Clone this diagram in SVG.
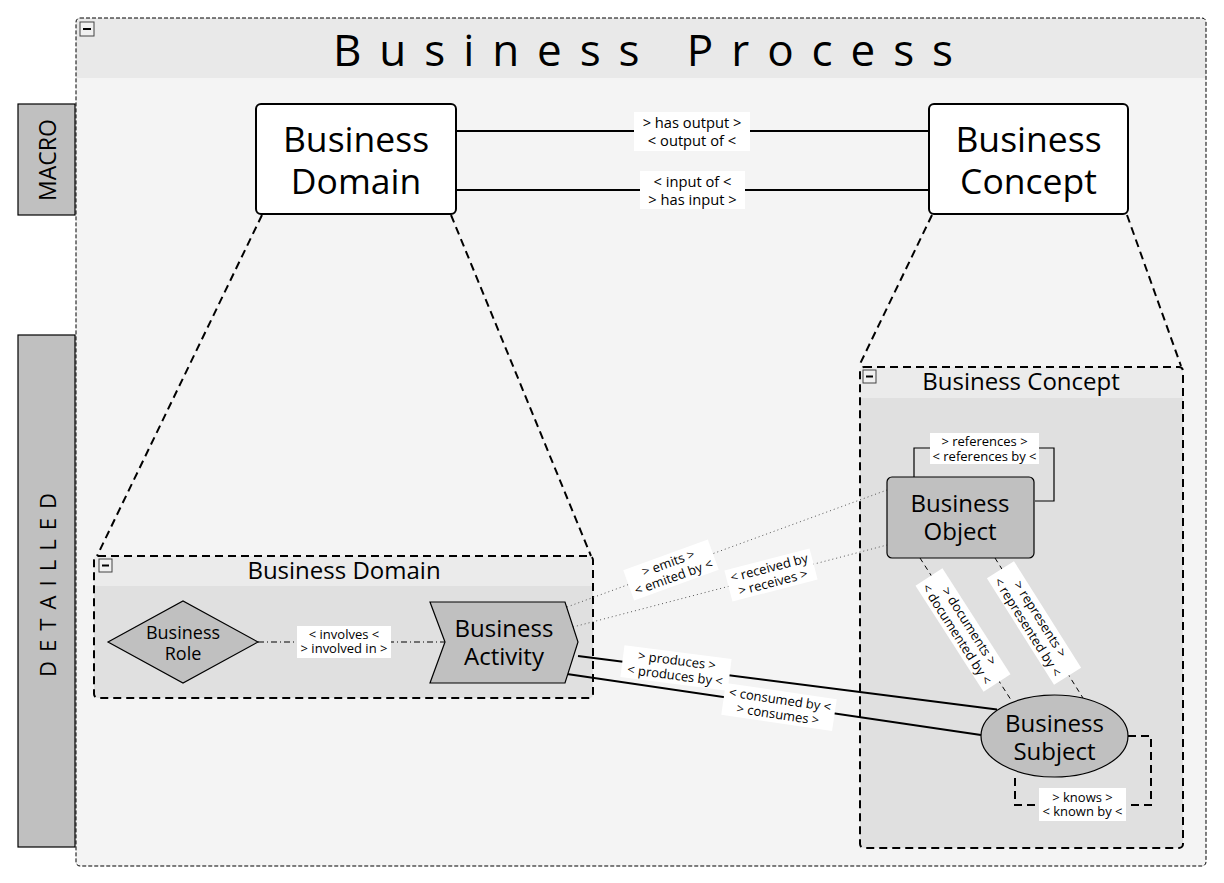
<svg xmlns="http://www.w3.org/2000/svg" width="1224" height="883" viewBox="0 0 1224 883">
<style>
text{font-family:"Open Sans","DejaVu Sans",sans-serif;fill:#000}
.lbl{font-size:13px;text-anchor:middle}
.lbl15{font-size:14.7px;text-anchor:middle}
.big{font-size:35.5px;text-anchor:middle}
.mid{font-size:24px;text-anchor:middle}
.sm{font-size:18px;text-anchor:middle}
.lblbg{fill:#fff;stroke:none}
.gnode{fill:#c0c0c0;stroke:#000;stroke-width:1.2}
.wnode{fill:#fff;stroke:#000;stroke-width:2}
.cont{fill:#e0e0e0;stroke:none}
.contbd{fill:none;stroke:#000;stroke-width:2;stroke-dasharray:8 5}
.hdr{fill:#ebebeb}
.minus{fill:#f0f0f0;stroke:#444;stroke-width:1}
.trap{fill:none;stroke:#000;stroke-width:2;stroke-dasharray:8 5}
.solid{fill:none;stroke:#000;stroke-width:2}
.thin{fill:none;stroke:#000;stroke-width:1.2}
.dot{fill:none;stroke:#555;stroke-width:1;stroke-dasharray:1 3}
.dash{fill:none;stroke:#000;stroke-width:1;stroke-dasharray:5 4}
.dashdot{fill:none;stroke:#000;stroke-width:1;stroke-dasharray:6 3 1 3}
.lane{fill:#c0c0c0;stroke:#000;stroke-width:1.2}
</style>
<rect width="1224" height="883" fill="#fff"/>

<g id="process">
<rect x="76" y="18" width="1130" height="848" rx="4" fill="#f4f4f4"/>
<path d="M80 18 H1202 Q1206 18 1206 22 V78 H76 V22 Q76 18 80 18 Z" fill="#e9e9e9"/>
<rect x="76" y="18" width="1130" height="848" rx="4" fill="none" stroke="#000" stroke-width="1" stroke-dasharray="4 2"/>
<rect x="80" y="22" width="14" height="14" class="minus"/>
<line x1="83" y1="29" x2="91" y2="29" stroke="#000" stroke-width="2"/>
<text x="333" y="66" font-size="44" textLength="620" lengthAdjust="spacing">Business Process</text>
</g>

<g id="lane-macro">
<rect x="18" y="104" width="57" height="111" class="lane"/>
<text transform="translate(56,160) rotate(-90)" font-size="23" text-anchor="middle">MACRO</text>
</g>
<g id="lane-detailled">
<rect x="18" y="335" width="57" height="512" class="lane"/>
<text transform="translate(56,585) rotate(-90)" x="-92" font-size="22" textLength="184" lengthAdjust="spacing">DETAILLED</text>
</g>

<g id="container-domain">
<rect x="94" y="556" width="499" height="142" rx="4" class="cont"/>
<path d="M98 556 H589 Q593 556 593 560 V586 H94 V560 Q94 556 98 556 Z" class="hdr"/>
<rect x="94" y="556" width="499" height="142" rx="4" class="contbd"/>
<rect x="99" y="559" width="13" height="13" class="minus"/>
<line x1="102" y1="565.5" x2="109" y2="565.5" stroke="#000" stroke-width="2"/>
<text x="344" y="579" font-size="24" text-anchor="middle">Business Domain</text>
</g>

<g id="container-concept">
<rect x="860" y="367" width="323" height="481" rx="4" class="cont"/>
<path d="M864 367 H1179 Q1183 367 1183 371 V398 H860 V371 Q860 367 864 367 Z" class="hdr"/>
<rect x="860" y="367" width="323" height="481" rx="4" class="contbd"/>
<rect x="863" y="370" width="13" height="13" class="minus"/>
<line x1="866" y1="376.5" x2="873" y2="376.5" stroke="#000" stroke-width="2"/>
<text x="1021" y="390" font-size="24" text-anchor="middle">Business Concept</text>
</g>

<g id="connectors">
<line x1="262" y1="215" x2="97" y2="556" class="trap"/>
<line x1="451" y1="215" x2="591" y2="556" class="trap"/>
<line x1="932" y1="215" x2="859" y2="366" class="trap"/>
<line x1="1127" y1="215" x2="1181" y2="366" class="trap"/>

<line x1="456" y1="131" x2="929" y2="131" class="solid"/>
<line x1="456" y1="190" x2="929" y2="190" class="solid"/>

<line x1="258" y1="642" x2="445" y2="642" class="dashdot"/>

<polyline points="914,477 914,448 1054,448 1054,501 1035,501" class="thin"/>

<line x1="567" y1="607" x2="887" y2="490" class="dot"/>
<line x1="573" y1="627" x2="887" y2="545" class="dot"/>

<line x1="578" y1="656" x2="997" y2="709.5" class="solid"/>
<line x1="567" y1="674" x2="981" y2="735" class="solid"/>

<line x1="920" y1="558" x2="1013" y2="703" class="dash"/>
<line x1="995" y1="558" x2="1083" y2="698" class="dash"/>

<polyline points="1128,736 1151,736 1151,805 1015,805 1015,776" fill="none" stroke="#000" stroke-width="2" stroke-dasharray="8 5"/>

<g id="lbl-output">
<rect x="634" y="112" width="116" height="39" class="lblbg"/>
<text x="692" y="128" class="lbl15">&gt; has output &gt;</text>
<text x="692" y="146" class="lbl15">&lt; output of &lt;</text>
</g>
<g id="lbl-input">
<rect x="640" y="171" width="105" height="38" class="lblbg"/>
<text x="692.5" y="187" class="lbl15">&lt; input of &lt;</text>
<text x="692.5" y="205" class="lbl15">&gt; has input &gt;</text>
</g>
<g id="lbl-involves">
<rect x="297" y="626" width="94" height="32" class="lblbg"/>
<text x="344" y="639" class="lbl">&lt; involves &lt;</text>
<text x="344" y="653" class="lbl">&gt; involved in &gt;</text>
</g>
<g id="lbl-references">
<rect x="930" y="433" width="109" height="31" class="lblbg"/>
<text x="984.5" y="446" class="lbl">&gt; references &gt;</text>
<text x="984.5" y="461" class="lbl">&lt; references by &lt;</text>
</g>
<g id="lbl-knows">
<rect x="1039" y="788" width="87" height="33" class="lblbg"/>
<text x="1082.5" y="802" class="lbl">&gt; knows &gt;</text>
<text x="1082.5" y="816" class="lbl">&lt; known by &lt;</text>
</g>
<g id="lbl-emits" transform="translate(671,570) rotate(-20)">
<rect x="-45" y="-16" width="90" height="32" class="lblbg"/>
<text x="0" y="-3" class="lbl">&gt; emits &gt;</text>
<text x="0" y="12" class="lbl">&lt; emited by &lt;</text>
</g>
<g id="lbl-received" transform="translate(771,575) rotate(-14.6)">
<rect x="-44" y="-16" width="88" height="32" class="lblbg"/>
<text x="0" y="-3" class="lbl">&lt; received by</text>
<text x="0" y="12" class="lbl">&gt; receives &gt;</text>
</g>
<g id="lbl-produces" transform="translate(676,668) rotate(7.3)">
<rect x="-54" y="-16" width="108" height="32" class="lblbg"/>
<text x="0" y="-3" class="lbl">&gt; produces &gt;</text>
<text x="0" y="12" class="lbl">&lt; produces by &lt;</text>
</g>
<g id="lbl-consumed" transform="translate(779,707) rotate(8.4)">
<rect x="-56" y="-16" width="112" height="32" class="lblbg"/>
<text x="0" y="-3" class="lbl">&lt; consumed by &lt;</text>
<text x="0" y="12" class="lbl">&gt; consumes &gt;</text>
</g>
<g id="lbl-documents" transform="translate(963,630) rotate(57.3)">
<rect x="-63" y="-16" width="126" height="32" class="lblbg"/>
<text x="0" y="-3" class="lbl">&gt; documents &gt;</text>
<text x="0" y="12" class="lbl">&lt; documented by &lt;</text>
</g>
<g id="lbl-represents" transform="translate(1034,623) rotate(57.8)">
<rect x="-63" y="-16" width="126" height="32" class="lblbg"/>
<text x="0" y="-3" class="lbl">&gt; represents &gt;</text>
<text x="0" y="12" class="lbl">&lt; represented by &lt;</text>
</g>
</g>

<g id="node-business-domain">
<rect x="256" y="104" width="200" height="110" rx="5" class="wnode"/>
<text x="356" y="152" class="big">Business</text>
<text x="356" y="194" class="big">Domain</text>
</g>
<g id="node-business-concept">
<rect x="929" y="104" width="199" height="110" rx="5" class="wnode"/>
<text x="1028.5" y="152" class="big">Business</text>
<text x="1028.5" y="194" class="big">Concept</text>
</g>
<g id="node-business-role">
<polygon points="108,642 183,601 258,642 183,683" class="gnode"/>
<text x="183" y="639" class="sm">Business</text>
<text x="183" y="660" class="sm">Role</text>
</g>
<g id="node-business-activity">
<polygon points="430,602 565,602 578,642 565,683 430,683 445,642" class="gnode"/>
<text x="504" y="637" class="mid">Business</text>
<text x="504" y="665" class="mid">Activity</text>
</g>
<g id="node-business-object">
<rect x="887" y="477" width="147" height="81" rx="5" class="gnode"/>
<text x="960" y="512" class="mid">Business</text>
<text x="960" y="540" class="mid">Object</text>
</g>
<g id="node-business-subject">
<ellipse cx="1054.5" cy="736" rx="73.5" ry="41" class="gnode"/>
<text x="1054.5" y="732" class="mid">Business</text>
<text x="1054.5" y="760" class="mid">Subject</text>
</g>
</svg>
